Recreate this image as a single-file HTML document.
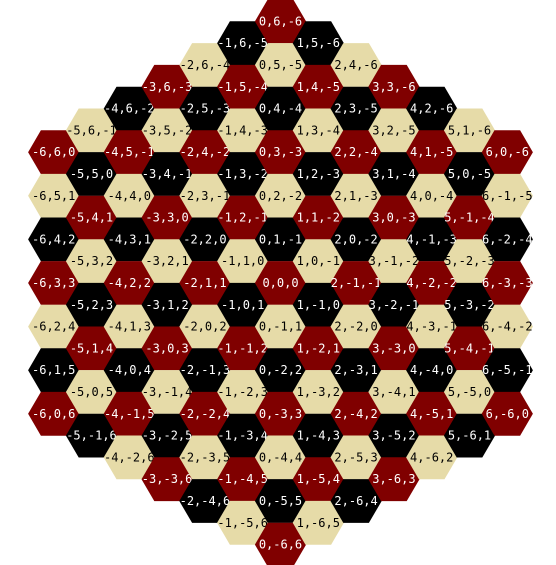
<!DOCTYPE html>
<html><head><meta charset="utf-8"><style>
html,body{margin:0;padding:0;background:#fff;width:556px;height:565px;overflow:hidden}
svg text{font-family:"DejaVu Sans Mono","Liberation Mono",monospace;font-size:12px}
</style></head><body>
<svg id="chart" width="556" height="565" viewBox="0 0 556 565" xmlns="http://www.w3.org/2000/svg"></svg>
<script>
const radius = [6];
const colorNames = ['#800000', '#000000', '#e6dba8'];
const textColors = ['#ffffff', '#ffffff', '#000000'];

const cx = 280.5, cy = 283, colStep = 37.8, rowStep = 43.6, s = 25.6, hh = 21.9;
const svg = document.getElementById('chart');
const NS = 'http://www.w3.org/2000/svg';
const R = radius[0];
for (let x = -R; x <= R; x++) {
  for (let y = R; y >= -R; y--) {
    const z = -x - y;
    if (z < -R || z > R) continue;
    const px = cx + x * colStep;
    const py = cy - (y - z) / 2 * rowStep;
    const ci = (((y - x) % 3) + 3) % 3;
    const idx = ci === 0 ? 0 : (ci === 1 ? 1 : 2);
    const g = document.createElementNS(NS, 'g');
    
    
    const p = document.createElementNS(NS, 'polygon');
    const pts = [[s,0],[s/2,hh],[-s/2,hh],[-s,0],[-s/2,-hh],[s/2,-hh]].map(a => (px+a[0]).toFixed(2)+','+(py+a[1]).toFixed(2)).join(' ');
    p.setAttribute('points', pts);
    p.setAttribute('fill', colorNames[idx]);
    
    
    g.appendChild(p);
    const t = document.createElementNS(NS, 'text');
    t.setAttribute('x', px);
    t.setAttribute('y', py + 4);
    t.setAttribute('text-anchor', 'middle');
    t.setAttribute('fill', textColors[idx]);
    t.textContent = x + ',' + y + ',' + z;
    
    
    g.appendChild(t);
    svg.appendChild(g);
  }
}
</script>
</body></html>
